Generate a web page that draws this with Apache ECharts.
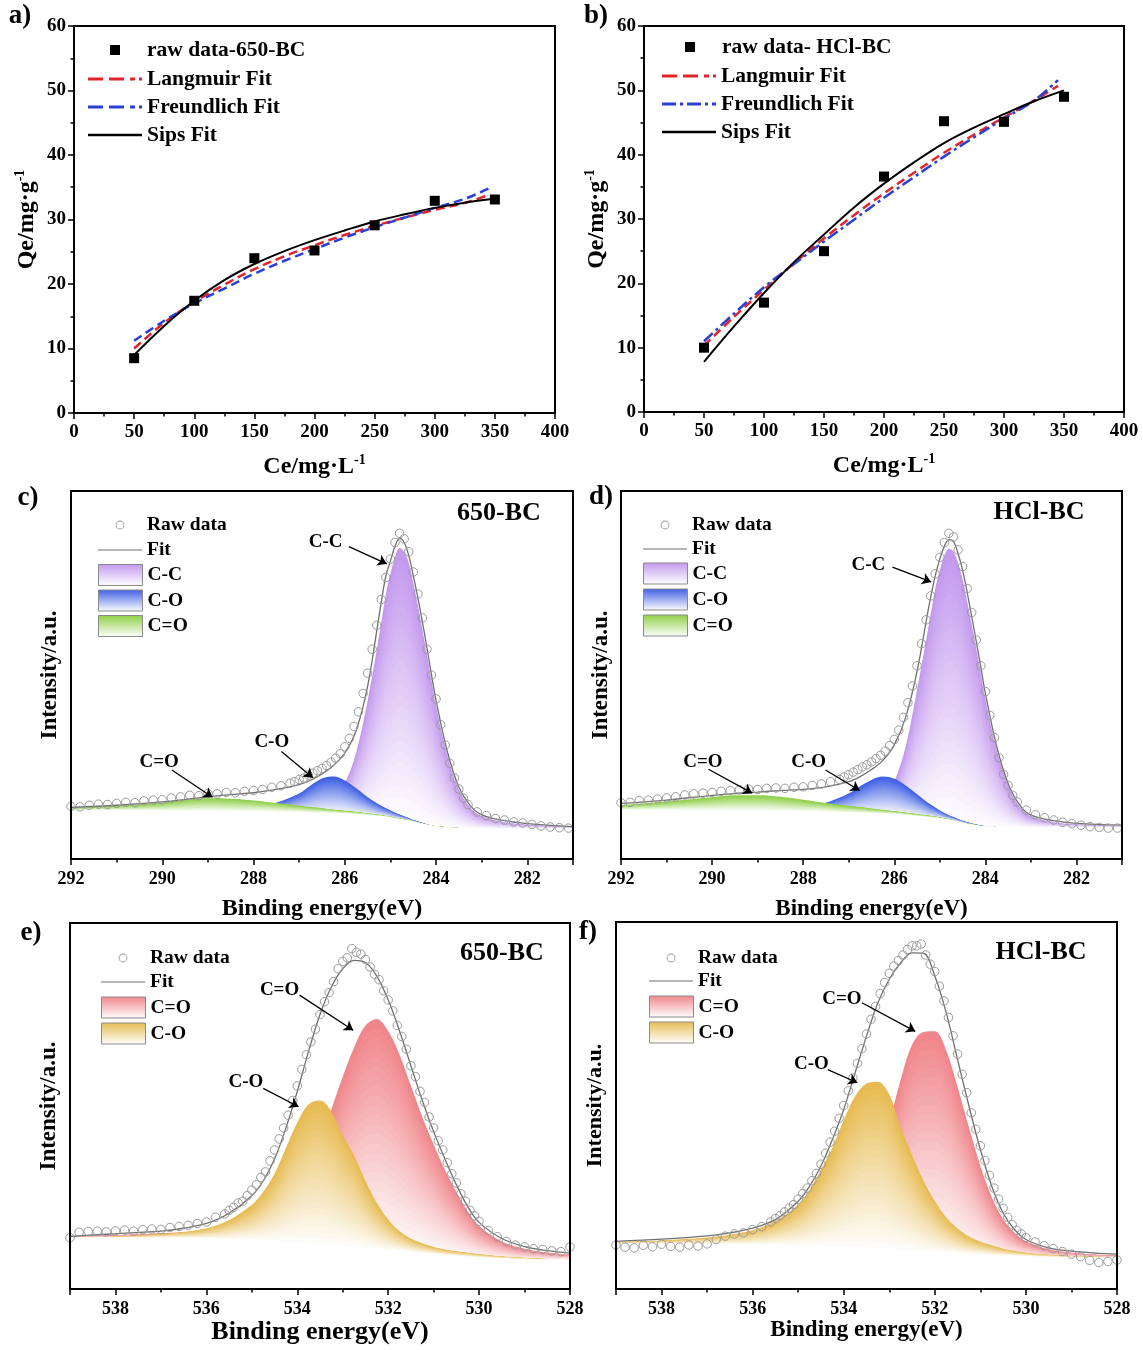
<!DOCTYPE html>
<html>
<head>
<meta charset="utf-8">
<script src="https://cdn.jsdelivr.net/npm/echarts/dist/echarts.min.js"></script>
<style>html,body{margin:0;padding:0;background:#fff}#chart{width:1143px;height:1350px}</style>
</head>
<body>
<div id="chart"></div>
<script>
// ---------------- (a), (b) adsorption isotherms ----------------
const ceRaw = [50, 100, 150, 200, 250, 300, 350];
const qe650 = [8.5, 17.4, 24.0, 25.2, 29.1, 32.9, 33.1];
const qeHCl = [10.0, 17.0, 25.0, 36.6, 45.2, 45.1, 49.0];
const ceSips = [50, 75, 100, 125, 150, 175, 200, 225, 250, 275, 300, 325, 350];
const ceLF = [50, 75, 100, 125, 150, 175, 200, 225, 250, 275, 300, 325, 345];
const a_sips = [9.0, 13.5, 17.4, 20.6, 23.1, 25.1, 26.8, 28.3, 29.7, 30.8, 31.8, 32.6, 33.2];
const a_lang = [10.0, 14.0, 17.2, 19.9, 22.3, 24.3, 26.0, 27.6, 29.0, 30.3, 31.5, 32.6, 33.8];
const a_freu = [11.2, 14.3, 17.0, 19.3, 21.6, 23.6, 25.4, 27.2, 28.8, 30.3, 31.8, 33.2, 34.8];
const b_sips = [7.8, 13.3, 18.5, 23.3, 27.6, 31.8, 35.5, 38.8, 41.8, 44.2, 46.3, 48.3, 50.0];
const b_lang = [10.3, 14.8, 19.0, 23.1, 27.0, 30.6, 34.0, 37.2, 40.3, 43.1, 45.8, 48.4, 50.7];
const b_freu = [11.0, 15.3, 19.4, 23.0, 26.5, 29.9, 33.3, 36.5, 39.7, 42.7, 45.6, 48.4, 51.6];

// ---------------- (c), (d) C 1s ----------------
const c1sBE = [292, 291, 290, 289.5, 289, 288.5, 288, 287.5, 287, 286.75, 286.5, 286.25, 286, 285.75, 285.5, 285.25, 285.1, 285, 284.9, 284.8, 284.7, 284.6, 284.5, 284.4, 284.25, 284.1, 284, 283.75, 283.5, 283.25, 283, 282.5, 282, 281];
const c_fit  = [14.0, 14.6, 15.5, 16.2, 16.9, 17.5, 18.0, 18.9, 20.2, 21.4, 23.1, 25.4, 28.8, 35.0, 47.0, 66.0, 77.0, 81.0, 85.0, 87.2, 86.0, 82.5, 77.0, 71.0, 61.0, 50.0, 43.0, 29.0, 19.5, 14.5, 12.0, 10.4, 9.6, 8.8];
const c_base = [13.3, 13.2, 13.1, 13.0, 13.0, 12.9, 12.9, 12.8, 12.7, 12.6, 12.5, 12.4, 12.3, 12.1, 11.9, 11.6, 11.4, 11.2, 11.0, 10.8, 10.6, 10.4, 10.1, 9.8, 9.4, 9.0, 8.8, 8.5, 8.4, 8.3, 8.3, 8.3, 8.3, 8.3];
const c_cc   = [13.3, 13.2, 13.1, 13.0, 13.0, 12.9, 12.9, 12.8, 12.8, 13.0, 13.8, 15.8, 20.5, 29.0, 43.0, 60.5, 72.0, 77.5, 82.0, 84.5, 83.5, 80.5, 75.0, 69.0, 59.0, 48.5, 41.5, 28.0, 18.8, 14.0, 11.6, 10.0, 9.3, 8.6];
const c_co   = [13.3, 13.2, 13.1, 13.1, 13.1, 13.3, 13.8, 15.3, 17.8, 20.0, 21.9, 22.4, 21.3, 19.2, 16.8, 14.8, 13.8, 13.2, 12.6, 12.1, 11.6, 11.1, 10.6, 10.2, 9.6, 9.1, 8.9, 8.6, 8.4, 8.3, 8.3, 8.3, 8.3, 8.3];
const c_cdo  = [13.8, 14.4, 15.3, 16.1, 16.5, 16.4, 15.9, 15.2, 14.5, 14.1, 13.8, 13.4, 13.1, 12.8, 12.4, 12.0, 11.7, 11.5, 11.2, 11.0, 10.7, 10.5, 10.2, 9.9, 9.5, 9.1, 8.9, 8.6, 8.4, 8.3, 8.3, 8.3, 8.3, 8.3];
const d_fit  = [15.1, 16.0, 17.3, 17.8, 18.2, 18.6, 18.9, 19.6, 21.0, 22.4, 24.3, 26.8, 31.0, 38.5, 51.0, 68.0, 77.0, 81.5, 85.0, 86.8, 86.3, 83.0, 78.5, 72.5, 62.5, 52.2, 45.0, 30.5, 20.5, 14.7, 11.9, 10.4, 9.7, 9.2];
const d_base = [13.3, 13.3, 13.2, 13.1, 13.1, 13.0, 12.9, 12.8, 12.6, 12.5, 12.4, 12.3, 12.2, 11.9, 11.6, 11.3, 11.1, 11.0, 10.8, 10.6, 10.4, 10.1, 9.8, 9.5, 9.2, 8.9, 8.8, 8.7, 8.6, 8.6, 8.6, 8.6, 8.6, 8.6];
const d_cc   = [13.3, 13.3, 13.2, 13.1, 13.1, 13.0, 12.9, 12.8, 12.7, 12.8, 13.5, 15.5, 21.0, 30.5, 46.0, 63.0, 73.5, 78.5, 82.5, 84.3, 83.5, 80.5, 76.0, 70.0, 60.5, 50.5, 43.5, 29.5, 20.0, 14.3, 11.6, 10.0, 9.4, 8.9];
const d_co   = [13.3, 13.3, 13.2, 13.2, 13.2, 13.4, 13.9, 15.3, 17.8, 19.8, 21.5, 22.4, 21.8, 20.0, 17.6, 15.2, 14.0, 13.2, 12.5, 11.9, 11.4, 10.9, 10.4, 10.0, 9.5, 9.1, 8.9, 8.7, 8.6, 8.6, 8.6, 8.6, 8.6, 8.6];
const d_cdo  = [14.6, 15.6, 16.8, 17.3, 17.3, 16.9, 16.1, 15.2, 14.4, 14.1, 13.7, 13.3, 13.0, 12.6, 12.2, 11.8, 11.5, 11.3, 11.0, 10.8, 10.5, 10.2, 9.9, 9.6, 9.3, 9.0, 8.9, 8.7, 8.6, 8.6, 8.6, 8.6, 8.6, 8.6];
const c1sRawBE = [292.0, 291.8, 291.6, 291.4, 291.2, 291.0, 290.8, 290.6, 290.4, 290.2, 290.0, 289.8, 289.6, 289.4, 289.2, 289.0, 288.8, 288.6, 288.4, 288.2, 288.0, 287.8, 287.6, 287.4, 287.2,
  287.1, 287.0, 286.9, 286.8, 286.7, 286.6, 286.5, 286.4, 286.3, 286.2, 286.1, 286.0, 285.9, 285.8, 285.7, 285.6, 285.5, 285.4, 285.3, 285.2, 285.1, 285.0, 284.9, 284.8, 284.7, 284.6, 284.5, 284.4, 284.3, 284.2, 284.1, 284.0, 283.9, 283.8, 283.7, 283.6, 283.5, 283.4, 283.3,
  283.1, 282.9, 282.7, 282.5, 282.3, 282.1, 281.9, 281.7, 281.5, 281.3, 281.1];
const c_raw = [14.3, 14.2, 14.6, 14.9, 14.8, 15.1, 15.4, 15.3, 15.8, 16.0, 16.1, 16.6, 16.9, 17.3, 17.2, 17.8, 17.7, 18.1, 18.0, 18.4, 18.6, 18.9, 19.5, 19.9, 20.6,
  21.0, 21.6, 22.0, 22.8, 23.3, 24.0, 24.6, 25.4, 26.3, 27.4, 28.6, 30.5, 32.8, 36.0, 40.0, 45.0, 50.5, 57.0, 63.5, 70.5, 76.5, 81.5, 86.0, 88.5, 87.0, 83.5, 78.0, 72.0, 65.5, 57.0, 50.0, 43.5, 36.5, 31.0, 26.0, 22.0, 19.0, 16.5, 14.8,
  12.8, 11.8, 11.0, 10.6, 10.1, 9.8, 9.4, 9.0, 8.7, 8.5, 8.4];
const d_raw = [15.3, 15.4, 15.9, 16.0, 16.3, 16.6, 16.9, 17.4, 17.7, 17.9, 18.1, 18.4, 18.6, 18.8, 19.0, 18.9, 19.2, 19.3, 19.2, 19.5, 19.6, 20.0, 20.4, 21.0, 21.6,
  22.3, 22.9, 23.6, 24.3, 25.0, 25.6, 26.4, 27.3, 28.2, 29.3, 30.8, 32.5, 35.0, 38.5, 42.5, 47.0, 52.5, 58.5, 65.0, 71.5, 77.5, 82.0, 86.0, 88.5, 87.5, 84.0, 79.5, 73.5, 67.0, 59.5, 52.5, 45.5, 39.0, 33.0, 27.5, 23.0, 20.0, 17.3, 15.5,
  13.3, 12.0, 11.2, 10.6, 10.0, 9.6, 9.2, 8.8, 8.6, 8.4, 8.4];

// ---------------- (e), (f) O 1s ----------------
const o1sBE = [539, 538, 537, 536.5, 536, 535.5, 535, 534.75, 534.5, 534.25, 534, 533.75, 533.5, 533.25, 533, 532.75, 532.5, 532.25, 532, 531.75, 531.5, 531.25, 531, 530.75, 530.5, 530.25, 530, 529.5, 529, 528.5, 528];
const e_fit  = [14.4, 15.1, 15.8, 16.6, 17.9, 20.7, 25.5, 29.5, 35.5, 44.0, 54.0, 65.0, 75.0, 82.5, 87.5, 89.8, 89.2, 85.5, 79.0, 70.5, 61.0, 51.5, 43.0, 35.5, 28.5, 22.5, 18.2, 13.8, 11.6, 10.5, 9.8];
const e_base = [14.0, 14.0, 14.0, 13.9, 13.8, 13.6, 13.4, 13.3, 13.1, 12.9, 12.7, 12.5, 12.3, 12.1, 11.9, 11.6, 11.3, 11.0, 10.7, 10.4, 10.1, 9.8, 9.5, 9.2, 9.0, 8.8, 8.6, 8.3, 8.1, 8.0, 8.0];
const e_cdo  = [14.3, 14.7, 15.2, 15.5, 15.8, 16.3, 17.2, 18.0, 19.0, 20.0, 23.0, 29.0, 39.0, 49.0, 58.0, 66.0, 72.0, 73.8, 70.5, 64.0, 55.5, 47.0, 39.5, 32.5, 26.5, 21.2, 17.2, 13.0, 11.0, 10.0, 9.4];
const e_co   = [14.1, 14.3, 15.0, 15.6, 16.6, 18.8, 23.0, 26.5, 31.5, 38.5, 45.5, 50.5, 51.5, 48.5, 42.0, 36.5, 29.5, 23.5, 19.0, 15.8, 13.8, 12.5, 11.5, 10.8, 10.3, 9.9, 9.5, 8.9, 8.5, 8.2, 8.1];
const f_fit  = [13.0, 13.6, 14.5, 15.3, 16.6, 18.9, 23.9, 28.0, 33.5, 40.7, 48.9, 58.9, 68.9, 78.0, 84.4, 88.9, 91.6, 91.5, 85.3, 75.3, 62.5, 49.8, 38.0, 28.0, 20.7, 16.2, 13.5, 11.2, 10.3, 9.8, 9.5];
const f_base = [12.3, 12.3, 12.2, 12.2, 12.1, 12.0, 11.9, 11.8, 11.7, 11.6, 11.5, 11.4, 11.2, 11.1, 10.9, 10.7, 10.5, 10.3, 10.1, 9.9, 9.7, 9.5, 9.4, 9.2, 9.1, 9.0, 8.9, 8.7, 8.6, 8.5, 8.5];
const f_cdo  = [12.5, 12.6, 12.7, 12.8, 13.0, 13.3, 13.8, 14.2, 14.8, 15.8, 17.5, 20.0, 25.0, 33.5, 45.0, 57.0, 66.5, 70.0, 70.2, 65.0, 55.0, 44.0, 33.5, 25.0, 19.0, 15.2, 13.0, 10.8, 9.9, 9.4, 9.1];
const f_co   = [12.8, 13.2, 14.0, 14.8, 16.0, 18.5, 23.0, 27.0, 32.5, 38.5, 46.0, 52.5, 56.0, 56.5, 53.0, 44.0, 36.5, 29.5, 24.0, 19.5, 16.5, 14.3, 12.9, 11.9, 11.0, 10.4, 9.9, 9.3, 9.0, 8.8, 8.7];
const o1sRawBE = [539.0, 538.8, 538.6, 538.4, 538.2, 538.0, 537.8, 537.6, 537.4, 537.2, 537.0, 536.8, 536.6, 536.4, 536.2, 536.0, 535.8, 535.6,
  535.5, 535.4, 535.3, 535.2, 535.1, 535.0, 534.9, 534.8, 534.7, 534.6, 534.5, 534.4, 534.3, 534.2, 534.1, 534.0, 533.9, 533.8, 533.7, 533.6, 533.5, 533.4, 533.3, 533.2, 533.1, 533.0, 532.9, 532.8, 532.7, 532.6, 532.5, 532.4, 532.3, 532.2, 532.1, 532.0, 531.9, 531.8, 531.7, 531.6, 531.5, 531.4, 531.3, 531.2, 531.1, 531.0, 530.9, 530.8, 530.7, 530.6, 530.5, 530.4, 530.3, 530.2, 530.1, 530.0,
  529.8, 529.6, 529.4, 529.2, 529.0, 528.8, 528.6, 528.4, 528.2, 528.0];
const e_raw = [14.0, 15.5, 15.7, 15.8, 15.6, 15.9, 16.1, 15.8, 16.2, 16.4, 16.3, 16.8, 17.1, 17.4, 17.9, 18.3, 19.6, 20.5,
  21.5, 22.3, 23.5, 24.0, 25.5, 27.0, 28.5, 30.5, 32.0, 35.0, 38.0, 41.0, 44.0, 47.5, 51.5, 55.5, 60.0, 64.0, 67.5, 71.0, 75.0, 78.5, 81.0, 84.0, 87.5, 89.5, 90.5, 93.0, 92.0, 91.5, 90.0, 88.0, 86.0, 84.5, 81.5, 79.0, 76.0, 72.0, 69.0, 65.5, 61.0, 58.0, 54.0, 51.0, 47.0, 44.0, 40.5, 38.0, 34.5, 31.5, 29.0, 26.0, 24.0, 21.5, 20.0, 18.5,
  16.0, 14.3, 13.0, 12.0, 11.5, 11.0, 10.8, 10.4, 10.2, 11.5];
const f_raw = [12.0, 11.4, 11.2, 11.9, 11.5, 12.2, 11.6, 11.4, 12.0, 11.7, 12.3, 13.5, 14.4, 15.0, 15.3, 16.2, 17.0, 18.3,
  19.2, 20.0, 21.0, 22.0, 23.0, 24.5, 26.0, 27.5, 29.5, 31.5, 34.0, 37.0, 40.0, 43.0, 46.5, 50.0, 54.0, 57.5, 61.5, 65.5, 69.5, 73.5, 77.0, 80.5, 83.5, 86.0, 88.0, 89.5, 91.0, 92.5, 93.5, 93.5, 94.0, 91.0, 88.5, 86.5, 82.5, 78.5, 74.0, 69.0, 64.0, 58.5, 53.5, 48.0, 43.5, 39.0, 35.0, 31.0, 27.5, 24.5, 22.0, 19.5, 17.5, 16.0, 15.0, 14.0,
  12.8, 11.8, 11.0, 10.2, 9.5, 8.8, 7.8, 7.2, 7.5, 7.9];

// annotations: [label, text position, arrow start, arrow tip] in data units
const annC = [['C-C', [286.42, 86.2], [285.91, 84.9], [285.08, 80.2]], ['C-O', [287.6, 31.9], [287.39, 29.2], [286.7, 22.1]], ['C=O', [290.07, 26.4], [289.79, 24.2], [288.9, 16.8]]];
const annD = [['C-C', [286.57, 79.9], [286.04, 79.3], [285.19, 75.3]], ['C-O', [287.88, 26.4], [287.51, 24.2], [286.76, 18.6]], ['C=O', [290.2, 26.4], [290.08, 24.4], [289.12, 17.9]]];
const annE = [['C=O', [534.39, 81.6], [533.95, 80.3], [532.77, 70.7]], ['C-O', [535.13, 56.6], [534.75, 54.8], [533.97, 49.8]]];
const annF = [['C=O', [534.04, 78.9], [533.6, 78.0], [532.43, 70.2]], ['C-O', [534.71, 61.2], [534.35, 59.8], [533.7, 56.2]]];

// ---------------- styling ----------------
const FONT = 'Liberation Serif';
const RED = '#e3242b', BLUE = '#2a3fd6';
const COL_CC = '#c399ee', COL_CO_C = '#3e5fe4', COL_CDO_C = '#8dcf45', COL_PINK = '#f0868b', COL_GOLD = '#e7bb52';
const SM = 0.35;
const zip = (xs, ys) => xs.map((x, i) => [x, ys[i]]);
function mix(hex, t) {
  const n = parseInt(hex.slice(1), 16);
  const r = (n >> 16) & 255, g = (n >> 8) & 255, b = n & 255;
  const f = c => Math.round(255 + (c - 255) * t);
  return 'rgb(' + f(r) + ',' + f(g) + ',' + f(b) + ')';
}
const grad = c => ({type: 'linear', x: 0, y: 0, x2: 0, y2: 1, colorStops: [{offset: 0, color: c}, {offset: 1, color: '#ffffff'}]});
const bold = (size, extra) => Object.assign({fontFamily: FONT, fontWeight: 'bold', fontSize: size, color: '#000'}, extra || {});

const gridBoxes = [
  {left: 74, top: 26, width: 481, height: 387},
  {left: 644, top: 26, width: 480, height: 386},
  {left: 71, top: 491, width: 502, height: 368},
  {left: 621, top: 491, width: 501, height: 368},
  {left: 70, top: 923, width: 500, height: 366},
  {left: 616, top: 922, width: 501, height: 367}
];
const grids = gridBoxes.map(g => Object.assign({show: true, borderColor: '#000', borderWidth: 2, backgroundColor: 'transparent', z: 10, containLabel: false, outerBoundsMode: 'none'}, g));

const axLine = {show: true, lineStyle: {color: '#000', width: 2}};
function supName(main, sup, size) {
  return {
    name: '{m|' + main + '}{s|' + sup + '}',
    nameTextStyle: {rich: {m: bold(size, {lineHeight: size + 4}), s: bold(Math.round(size * 0.6), {lineHeight: 14, verticalAlign: 'top'})}}
  };
}
function isoX(gi) {
  return Object.assign({
    type: 'value', gridIndex: gi, min: 0, max: 400, interval: 50, z: 10,
    axisLine: axLine, axisTick: {show: true, length: 6, lineStyle: {color: '#000', width: 1.5}},
    minorTick: {show: true, splitNumber: 2, length: 3.5, lineStyle: {color: '#000', width: 1.5}},
    splitLine: {show: false}, minorSplitLine: {show: false},
    axisLabel: bold(19, {margin: 10}), nameLocation: 'middle', nameGap: 40
  }, supName('Ce/mg·L', '-1', 24));
}
function isoY(gi) {
  return Object.assign({
    type: 'value', gridIndex: gi, min: 0, max: 60, interval: 10, z: 10,
    axisLine: axLine, axisTick: {show: true, length: 6, lineStyle: {color: '#000', width: 1.5}},
    minorTick: {show: true, splitNumber: 2, length: 3.5, lineStyle: {color: '#000', width: 1.5}},
    splitLine: {show: false}, minorSplitLine: {show: false},
    axisLabel: bold(19, {margin: 8}), nameLocation: 'middle', nameGap: 33
  }, supName('Qe/mg·g', '-1', 24));
}
function xpsX(gi, min, max, nameSize, gap, useInterval) {
  const ax = {
    type: 'value', gridIndex: gi, min: min, max: max, inverse: true, z: 10,
    axisLine: axLine, axisTick: {show: true, length: 6, lineStyle: {color: '#000', width: 1.5}},
    minorTick: {show: true, splitNumber: 2, length: 3.5, lineStyle: {color: '#000', width: 1.5}},
    splitLine: {show: false}, minorSplitLine: {show: false},
    axisLabel: bold(18, {margin: 11, formatter: v => (Math.round(v) % 2 === 0 ? String(Math.round(v)) : '')}),
    name: 'Binding energy(eV)', nameLocation: 'middle', nameGap: gap, nameTextStyle: bold(nameSize)
  };
  if (useInterval) ax.interval = 2; else ax.splitNumber = 5;
  return ax;
}
function xpsY(gi, nameSize, gap) {
  return {
    type: 'value', gridIndex: gi, min: 0, max: 100, z: 10,
    axisLine: axLine, axisTick: {show: false}, axisLabel: {show: false}, splitLine: {show: false},
    name: 'Intensity/a.u.', nameLocation: 'middle', nameGap: gap, nameTextStyle: bold(nameSize)
  };
}

const xAxes = [isoX(0), isoX(1), xpsX(2, 281, 292, 24, 38, false), xpsX(3, 281, 292, 23, 39, false), xpsX(4, 528, 539, 26, 30, true), xpsX(5, 528, 539, 23, 30, true)];
const yAxes = [isoY(0), isoY(1), xpsY(2, 23, 9), xpsY(3, 23, 8), xpsY(4, 23, 9.5), xpsY(5, 22, 10)];

// ---------------- series ----------------
const series = [];
function fitLine(gi, name, xs, ys, color, type, width) {
  return {type: 'line', name: name, xAxisIndex: gi, yAxisIndex: gi, data: zip(xs, ys), smooth: SM, symbol: 'none', showSymbol: false,
    lineStyle: {color: color, width: width, type: type}, itemStyle: {color: color}, z: 3, silent: true};
}
function rawSquares(gi, name, xs, ys) {
  return {type: 'scatter', name: name, xAxisIndex: gi, yAxisIndex: gi, data: zip(xs, ys), symbol: 'rect', symbolSize: 10,
    itemStyle: {color: '#000', opacity: 1}, z: 5, silent: true};
}
series.push(fitLine(0, 'Langmuir Fit', ceLF, a_lang, RED, [9, 5], 2.5));
series.push(fitLine(0, 'Freundlich Fit', ceLF, a_freu, BLUE, [9, 5], 2.5));
series.push(fitLine(0, 'Sips Fit', ceSips, a_sips, '#000', 'solid', 2));
series.push(rawSquares(0, 'raw data-650-BC', ceRaw, qe650));
series.push(fitLine(1, 'Langmuir Fit', ceLF, b_lang, RED, [9, 5], 2.5));
series.push(fitLine(1, 'Freundlich Fit', ceLF, b_freu, BLUE, [12, 4, 3, 4], 2.5));
series.push(fitLine(1, 'Sips Fit', ceSips, b_sips, '#000', 'solid', 2));
series.push(rawSquares(1, 'raw data- HCl-BC', ceRaw, qeHCl));

// each fitted component: filled from the baseline up to the component curve, shaded from full colour at the curve to white at the baseline
const LAYERS = 24;
function componentLayers(gi, name, xs, top, base, color) {
  const out = [];
  for (let j = LAYERS; j >= 1; j--) {
    const f = j / LAYERS;
    out.push({
      type: 'line', name: j === LAYERS ? name : name + ' shade ' + j, xAxisIndex: gi, yAxisIndex: gi,
      data: xs.map((x, i) => [x, base[i] + (top[i] - base[i]) * f]),
      smooth: SM, symbol: 'none', showSymbol: false,
      lineStyle: {width: 0, opacity: 0}, itemStyle: {color: color},
      areaStyle: {color: mix(color, f), opacity: 1}, z: 2, silent: true
    });
  }
  return out;
}
const xpsPanels = [
  {gi: 2, be: c1sBE, fit: c_fit, base: c_base, comps: [['C-C', c_cc, COL_CC], ['C-O', c_co, COL_CO_C], ['C=O', c_cdo, COL_CDO_C]], rawBE: c1sRawBE, raw: c_raw, ann: annC},
  {gi: 3, be: c1sBE, fit: d_fit, base: d_base, comps: [['C-C', d_cc, COL_CC], ['C-O', d_co, COL_CO_C], ['C=O', d_cdo, COL_CDO_C]], rawBE: c1sRawBE, raw: d_raw, ann: annD},
  {gi: 4, be: o1sBE, fit: e_fit, base: e_base, comps: [['C=O', e_cdo, COL_PINK], ['C-O', e_co, COL_GOLD]], rawBE: o1sRawBE, raw: e_raw, ann: annE},
  {gi: 5, be: o1sBE, fit: f_fit, base: f_base, comps: [['C=O', f_cdo, COL_PINK], ['C-O', f_co, COL_GOLD]], rawBE: o1sRawBE, raw: f_raw, ann: annF}
];
xpsPanels.forEach(p => {
  p.comps.forEach(c => componentLayers(p.gi, c[0], p.be, c[1], p.base, c[2]).forEach(s => series.push(s)));
  series.push({type: 'line', name: 'Background', xAxisIndex: p.gi, yAxisIndex: p.gi, data: zip(p.be, p.base), smooth: SM,
    symbol: 'none', showSymbol: false, lineStyle: {width: 0, opacity: 0}, areaStyle: {color: '#ffffff', opacity: 1}, z: 2, silent: true});
  series.push({type: 'line', name: 'Fit', xAxisIndex: p.gi, yAxisIndex: p.gi, data: zip(p.be, p.fit), smooth: SM,
    symbol: 'none', showSymbol: false, lineStyle: {color: '#707070', width: 1.3}, itemStyle: {color: '#707070'}, z: 3, silent: true,
    markLine: {silent: true, symbol: ['none', 'arrow'], symbolSize: 9, animation: false,
      lineStyle: {color: '#000', width: 1.3, type: 'solid', opacity: 1}, label: {show: false}, emphasis: {disabled: true},
      data: p.ann.map(a => [{coord: a[2]}, {coord: a[3]}])},
    markPoint: {silent: true, symbol: 'circle', symbolSize: 1, animation: false, itemStyle: {color: 'rgba(0,0,0,0)'},
      label: bold(19, {show: true, position: 'inside', formatter: '{b}'}), emphasis: {disabled: true},
      data: p.ann.map(a => ({name: a[0], coord: a[1]}))}
  });
  series.push({type: 'scatter', name: 'Raw data', xAxisIndex: p.gi, yAxisIndex: p.gi, data: zip(p.rawBE, p.raw), symbol: 'circle', symbolSize: 8.5,
    itemStyle: {color: 'rgba(255,255,255,0)', borderColor: '#9a9a9a', borderWidth: 1, opacity: 1}, z: 4, silent: true});
});

// ---------------- legends ----------------
// icons: tiny invisible end marks keep the full icon width, the visible mark sits in the middle
const SQ_ICON = 'path://M0 4.99h0.01v0.02H0z M53.99 4.99h0.01v0.02h-0.01z M22 0h10v10H22z';
const RING_ICON = 'path://M0 4.49h0.01v0.02H0z M43.99 4.49h0.01v0.02h-0.01z M17.6 4.5a4.4 4.4 0 1 1 8.8 0a4.4 4.4 0 1 1 -8.8 0z M18.5 4.5a3.5 3.5 0 1 0 7 0a3.5 3.5 0 1 0 -7 0z';
const DASH_ICON = 'path://M0 0h15v3H0z M21 0h15v3H21z M42 0h5v3H42z M51 0h3v3H51z';
const DASHDOT_ICON = 'path://M0 0h14v3H0z M18 0h3v3H18z M25 0h14v3H25z M43 0h3v3H43z M50 0h4v3H50z';
const SOLID_ICON = 'path://M0 0h54v2.4H0z';
const FIT_ICON = 'path://M0 0h44v1.2H0z';
function legend(left, top, w, h, gap, fs, data) {
  return {left: left, top: top, orient: 'vertical', padding: 0, itemWidth: w, itemHeight: h, itemGap: gap, selectedMode: false,
    symbolKeepAspect: true, textStyle: bold(fs, {lineHeight: fs < 20 ? 20 : 22}), data: data};
}
const rawIcon = n => ({name: n, icon: RING_ICON, itemStyle: {color: '#9a9a9a', borderWidth: 0}});
const fitIcon = {name: 'Fit', icon: FIT_ICON, itemStyle: {color: '#707070', borderWidth: 0}};
const swatch = (n, c) => ({name: n, icon: 'rect', itemStyle: {color: grad(c), borderColor: '#8a8a8a', borderWidth: 1}});
const legends = [
  legend(88, 39, 54, 10, 6, 21.5, [{name: 'raw data-650-BC', icon: SQ_ICON, itemStyle: {color: '#000', borderWidth: 0}}]),
  legend(88, 68, 54, 14, 6, 21.5, [{name: 'Langmuir Fit', icon: DASH_ICON, itemStyle: {color: RED, borderWidth: 0}}, {name: 'Freundlich Fit', icon: DASH_ICON, itemStyle: {color: BLUE, borderWidth: 0}}, {name: 'Sips Fit', icon: SOLID_ICON, itemStyle: {color: '#000', borderWidth: 0}}]),
  legend(663, 36, 54, 10, 6, 21.5, [{name: 'raw data- HCl-BC', icon: SQ_ICON, itemStyle: {color: '#000', borderWidth: 0}}]),
  legend(662, 65, 54, 14, 6, 21.5, [{name: 'Langmuir Fit', icon: DASH_ICON, itemStyle: {color: RED, borderWidth: 0}}, {name: 'Freundlich Fit', icon: DASHDOT_ICON, itemStyle: {color: BLUE, borderWidth: 0}}, {name: 'Sips Fit', icon: SOLID_ICON, itemStyle: {color: '#000', borderWidth: 0}}]),
  legend(98, 515, 44, 9, 4, 19.5, [rawIcon('Raw data')]),
  legend(98, 540, 44, 8, 4, 19.5, [fitIcon]),
  legend(98, 564, 44, 21, 3.5, 19.5, [swatch('C-C', COL_CC), swatch('C-O', COL_CO_C), swatch('C=O', COL_CDO_C)]),
  legend(643, 515, 44, 9, 4, 19.5, [rawIcon('Raw data')]),
  legend(643, 539, 44, 8, 4, 19.5, [fitIcon]),
  legend(643, 562.5, 44, 21, 4, 19.5, [swatch('C-C', COL_CC), swatch('C-O', COL_CO_C), swatch('C=O', COL_CDO_C)]),
  legend(101, 948, 44, 9, 4, 19.5, [rawIcon('Raw data')]),
  legend(101, 972, 44, 8, 4, 19.5, [fitIcon]),
  legend(101, 996.5, 44, 21, 4, 19.5, [swatch('C=O', COL_PINK), swatch('C-O', COL_GOLD)]),
  legend(649, 948, 44, 9, 4, 19.5, [rawIcon('Raw data')]),
  legend(649, 971, 44, 8, 4, 19.5, [fitIcon]),
  legend(649, 995.5, 44, 21, 4, 19.5, [swatch('C=O', COL_PINK), swatch('C-O', COL_GOLD)])
];

// ---------------- panel tags ----------------
const panelTags = [['a)', 20, 16], ['b)', 596, 16], ['c)', 28, 498], ['d)', 601, 497], ['e)', 31, 933], ['f)', 588, 932]];
const sampleTags = [['650-BC', 499, 513], ['HCl-BC', 1039, 512], ['650-BC', 502, 953], ['HCl-BC', 1041, 952]];
const graphics = [];
panelTags.forEach(t => graphics.push({type: 'text', x: t[1], y: t[2], z: 20, silent: true,
  style: {text: t[0], font: 'bold 27px "' + FONT + '"', fill: '#000', align: 'center', verticalAlign: 'middle'}}));
sampleTags.forEach(t => graphics.push({type: 'text', x: t[1], y: t[2], z: 20, silent: true,
  style: {text: t[0], font: 'bold 26px "' + FONT + '"', fill: '#000', align: 'center', verticalAlign: 'middle'}}));

const chart = echarts.init(document.getElementById('chart'), null, {renderer: 'canvas'});
chart.setOption({
  animation: false,
  backgroundColor: '#ffffff',
  textStyle: {fontFamily: FONT},
  tooltip: {show: false},
  grid: grids,
  xAxis: xAxes,
  yAxis: yAxes,
  legend: legends,
  series: series,
  graphic: graphics
});
</script>
</body>
</html>
